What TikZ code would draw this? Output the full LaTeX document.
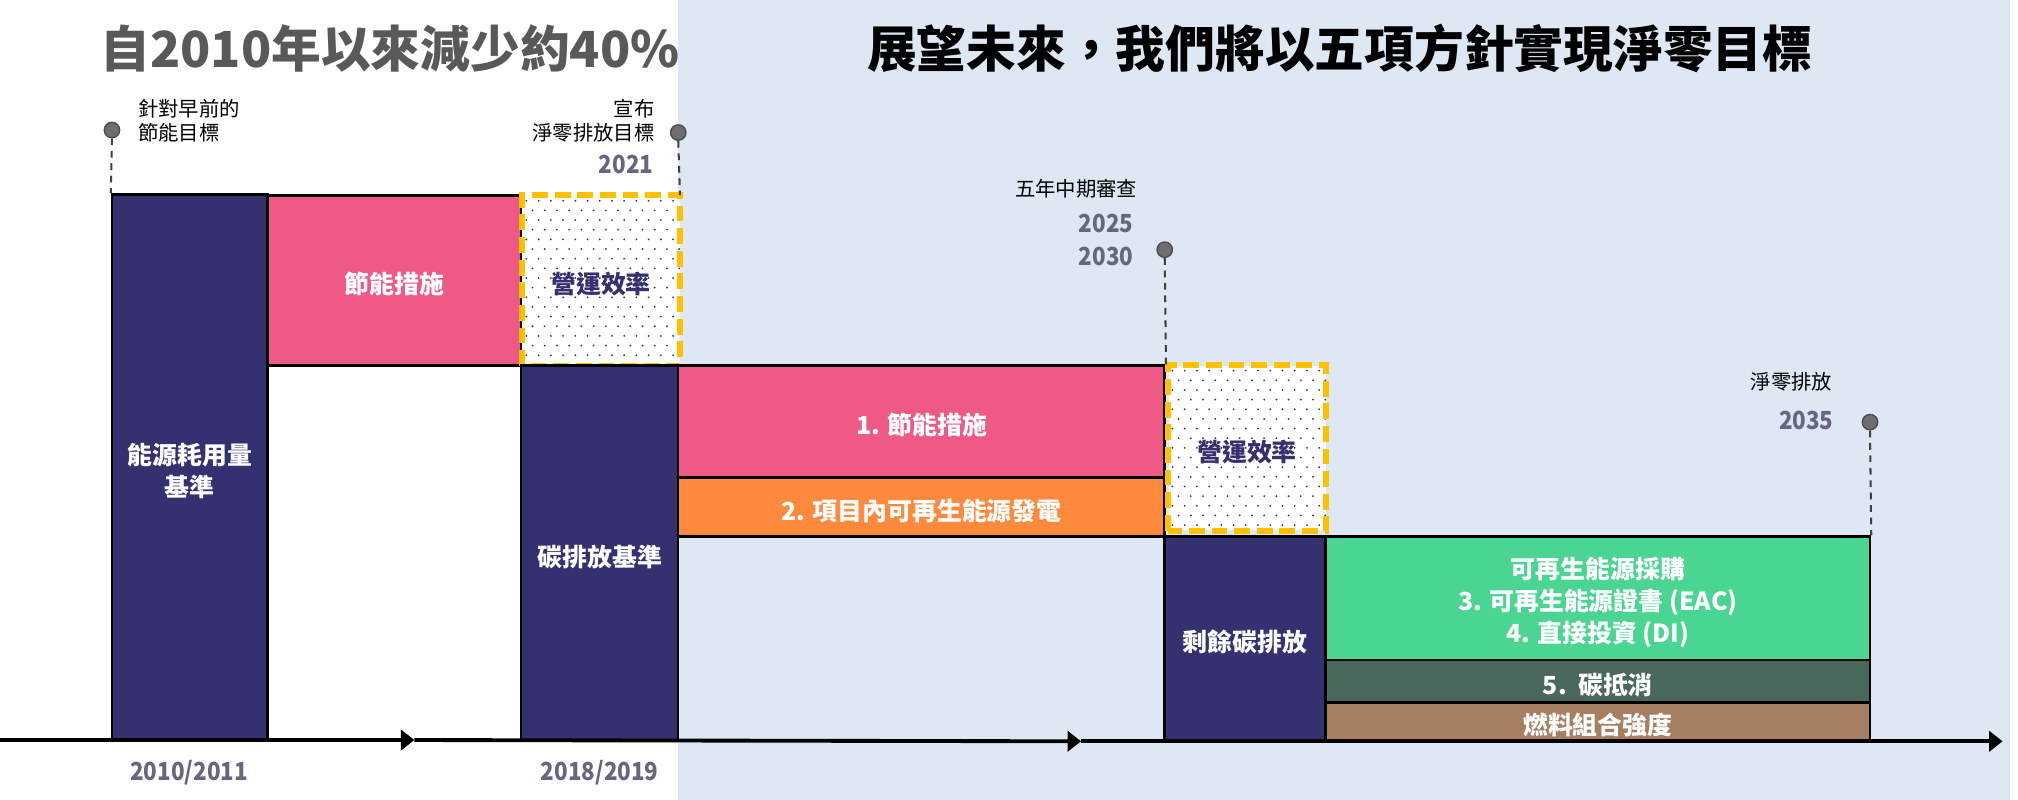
\documentclass[tikz,border=0pt]{standalone}
\usepackage{fontspec}
\setmainfont{Noto Sans CJK TC}
\usetikzlibrary{arrows.meta,fit}
\definecolor{bgblue}{HTML}{DEE8F4}
\definecolor{navy}{HTML}{353070}
\definecolor{pinkc}{HTML}{EF5986}
\definecolor{orangec}{HTML}{FF8A3D}
\definecolor{greenc}{HTML}{4AD592}
\definecolor{dgreen}{HTML}{4A675C}
\definecolor{brownc}{HTML}{A67F62}
\definecolor{yel}{HTML}{FFC000}
\definecolor{yeargray}{HTML}{67667F}
\definecolor{titlegray}{HTML}{595959}
\definecolor{pingray}{HTML}{6E6E6E}
\newcommand{\narrowtxt}[1]{\scalebox{0.9}[1]{#1}}
\begin{document}
\begin{tikzpicture}[x=0.02cm,y=-0.02cm,
  bx/.style={draw=black, line width=1.1pt, inner sep=0pt},
  bxt/.style={text=white, font=\fontsize{11}{14}\selectfont\bfseries, align=center, inner sep=0pt, yshift=-0.06cm},
  effarea/.style={inner sep=0pt, fill=white},
  effborder/.style={draw=yel, line width=2.6pt, dash pattern=on 7pt off 3pt},
  efftext/.style={text=navy, font=\fontsize{11}{14}\selectfont\bfseries, inner sep=0pt, yshift=-0.06cm},
  titletext/.style={font=\fontsize{22}{26}\selectfont\bfseries},
  note/.style={font=\fontsize{9}{10.5}\selectfont, text=black, inner sep=0pt},
  year/.style={font=\fontsize{11}{13}\selectfont\bfseries, text=yeargray, inner sep=0pt},
  pin/.style={circle, fill=pingray, draw=black!70, line width=0.6pt, minimum size=0.24cm, inner sep=0pt},
  stem/.style={draw=black!75, line width=0.9pt, dash pattern=on 3pt off 2.5pt},
  axis/.style={line width=1.7pt, -{Triangle[length=6pt,width=9pt]}}
]
\useasboundingbox (0,0) rectangle (1568,621.6);
% background
\fill[bgblue] (527,0) rectangle (1562,621.6);

% titles
\node[titletext, text=titlegray] (t1) at (303,38) {自2010年以來減少約40\%};
\node[titletext, text=black] (t2) at (1041,38) {展望未來，我們將以五項方針實現淨零目標};

% left part
\node[bx, fill=navy, fit={(87,151)(208,575)}] (b1) {};
\node[bxt] (b1t) at (b1.center) {能源耗用量\\基準};
\node[bx, fill=pinkc, fit={(208,152)(405,284)}] (p1) {};
\node[bxt] (p1t) at (p1.center) {節能措施};
\node[effarea, fit={(406,152)(528,284)}] (e1) {};
\begin{scope}
  \clip (e1.south west) rectangle (e1.north east);
  \foreach \i in {0,...,13} \foreach \j in {0,...,17}
    \fill[navy] ({406+3+\i*9.5+mod(\j,2)*4.75},{152+4+\j*7.5}) circle (0.45pt);
\end{scope}
\draw[effborder] (e1.south west) rectangle (e1.north east);
\node[efftext] (e1t) at (e1.center) {營運效率};

\node[bx, fill=navy, fit={(405,284)(527,575)}] (b2) {};
\node[bxt] (b2t) at (b2.center) {碳排放基準};

% middle part
\node[bx, fill=pinkc, fit={(527,284)(905,371)}] (p2) {};
\node[bxt] (p2t) at (p2.center) {1. 節能措施};
\node[bx, fill=orangec, fit={(527,371)(905,417)}] (o2) {};
\node[bxt] (o2t) at (o2.center) {2. 項目內可再生能源發電};
\node[effarea, fit={(908,284)(1030,412)}] (e2) {};
\begin{scope}
  \clip (e2.south west) rectangle (e2.north east);
  \foreach \i in {0,...,13} \foreach \j in {0,...,17}
    \fill[navy] ({908+3+\i*9.5+mod(\j,2)*4.75},{284+4+\j*7.5}) circle (0.45pt);
\end{scope}
\draw[effborder] (e2.south west) rectangle (e2.north east);
\node[efftext] (e2t) at (e2.center) {營運效率};

% right part
\node[bx, fill=navy, fit={(905,417)(1030,575)}] (b3) {};
\node[bxt] (b3t) at (b3.center) {剩餘碳排放};
\node[bx, fill=greenc, fit={(1030,417)(1453,513)}] (g1) {};
\node[bxt] (g1t) at (g1.center) {可再生能源採購\\3. 可再生能源證書 (EAC)\\4. 直接投資 (DI)};
\node[bx, fill=dgreen, fit={(1030,513)(1453,546)}] (g2) {};
\node[bxt] (g2t) at (g2.center) {5.\ \ 碳抵消};
\node[bx, fill=brownc, fit={(1030,546)(1453,575)}] (g3) {};
\node[bxt] (g3t) at (g3.center) {燃料組合強度};

% axis
\coordinate (a0) at (0,575);
\coordinate (a1) at (322,575);
\coordinate (a2) at (840,576);
\coordinate (a3) at (1556,576);
\draw[axis] (a0) -- (a1);
\draw[axis] (a1) -- (a2);
\draw[axis] (a2) -- (a3);

% pins
\node[pin] (m1) at (87,101) {};
\draw[stem] (m1.south) -- (b1.north west);
\node[note, anchor=west, align=left] (m1t) at (107,94) {針對早前的\\節能目標};

\node[pin] (m2) at (527,103) {};
\draw[stem] (m2.south) -- (e1.north east);
\node[note, anchor=east, align=right] (m2t) at (509,94) {宣布\\淨零排放目標};
\node[year, anchor=east] (y2021) at (508,128) {\narrowtxt{2021}};

\node[pin] (m3) at (905,194) {};
\draw[stem] (m3.south) -- (p2.north east);
\node[note, anchor=east] (m3t) at (884,147) {五年中期審查};
\node[year, anchor=east] (y2025) at (881,174) {\narrowtxt{2025}};
\node[year, anchor=east] (y2030) at (881,199) {\narrowtxt{2030}};

\node[pin] (m4) at (1453,328) {};
\draw[stem] (m4.south) -- (g1.north east);
\node[note, anchor=east] (m4t) at (1424,297) {淨零排放};
\node[year, anchor=east] (y2035) at (1425,327) {\narrowtxt{2035}};

% bottom years
\node[year] (yb1) at (147,600) {\narrowtxt{2010/2011}};
\node[year] (yb2) at (466,600) {\narrowtxt{2018/2019}};
\end{tikzpicture}
\end{document}
